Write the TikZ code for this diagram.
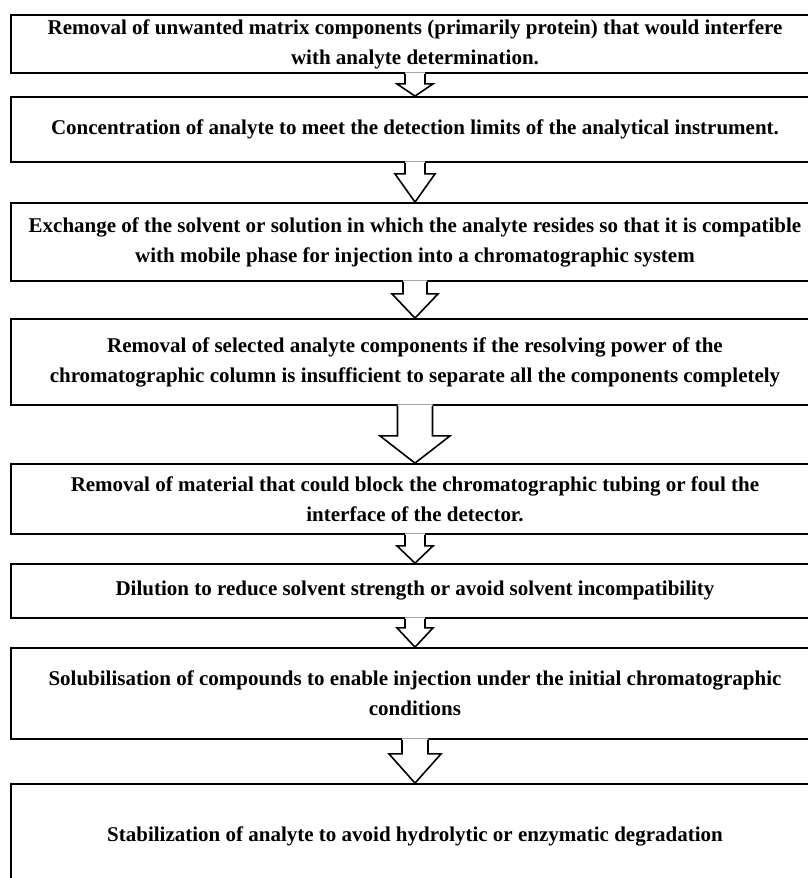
\documentclass[tikz,border=0pt]{standalone}
\usepackage{fontspec}
\setmainfont{Liberation Serif}
\usetikzlibrary{calc}

\tikzset{
	taskbox/.style={draw=black, line width=1.8pt, rectangle, minimum width=808pt, inner xsep=0pt, align=center, font=\fontsize{21}{30}\selectfont\bfseries},
	arrowline/.style={draw=black, line width=1.6pt, line join=miter}
}

% hollow block arrow: from, to, stem half width, head half width, stem length
\newcommand{\flowarrow}[5]{
	\fill[white]		($(#1.south)+(-#3,1.5)$) --++ (0,-#5-1.5) -- ($(#1.south)+(-#4,-#5)$) -- (#2.north) -- ($(#1.south)+(#4,-#5)$) -- ($(#1.south)+(#3,-#5)$) --++ (0,#5+1.5) -- cycle;
	\draw[arrowline]	($(#1.south)+(-#3,0)$) --++ (0,-#5) -- ($(#1.south)+(-#4,-#5)$) -- (#2.north) -- ($(#1.south)+(#4,-#5)$) -- ($(#1.south)+(#3,-#5)$) --++ (0,#5);
}

\begin{document}
\begin{tikzpicture}[x=1pt, y=1pt]
	\useasboundingbox (0,0) rectangle (808,-878);

	\node[taskbox, minimum height=58pt]	(b1) at (415,-44)	{Removal of unwanted matrix components (primarily protein) that would interfere\\ with analyte determination.};
	\node[taskbox, minimum height=65pt]	(b2) at (415,-129.5)	{Concentration of analyte to meet the detection limits of the analytical instrument.};
	\node[taskbox, minimum height=78pt]	(b3) at (415,-242)	{Exchange of the solvent or solution in which the analyte resides so that it is compatible\\ with mobile phase for injection into a chromatographic system};
	\node[taskbox, minimum height=86pt]	(b4) at (415,-362)	{Removal of selected analyte components if the resolving power of the\\ chromatographic column is insufficient to separate all the components completely};
	\node[taskbox, minimum height=70pt]	(b5) at (415,-499)	{Removal of material that could block the chromatographic tubing or foul the\\ interface of the detector.};
	\node[taskbox, minimum height=54pt]	(b6) at (415,-591)	{Dilution to reduce solvent strength or avoid solvent incompatibility};
	\node[taskbox, minimum height=91pt]	(b7) at (415,-693.5)	{Solubilisation of compounds to enable injection under the initial chromatographic\\ conditions};
	\node[taskbox, minimum height=105pt]	(b8) at (415,-836.5)	{Stabilization of analyte to avoid hydrolytic or enzymatic degradation};

	\flowarrow{b1}{b2}{10}{18}{10}
	\flowarrow{b2}{b3}{10}{20}{11}
	\flowarrow{b3}{b4}{12}{23}{12}
	\flowarrow{b4}{b5}{17.5}{35}{30}
	\flowarrow{b5}{b6}{10}{18}{11}
	\flowarrow{b6}{b7}{10}{18}{9}
	\flowarrow{b7}{b8}{13}{26}{14}
\end{tikzpicture}
\end{document}
